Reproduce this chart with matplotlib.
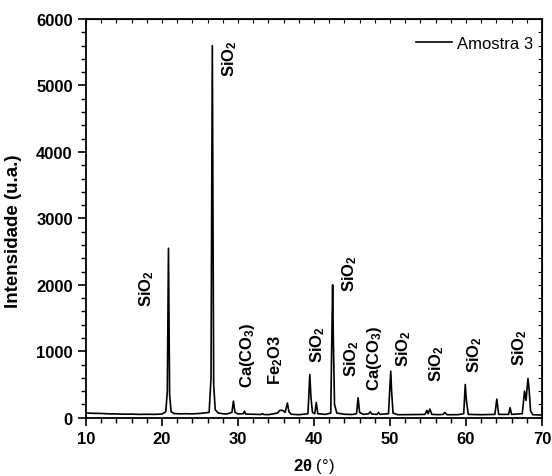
import matplotlib
matplotlib.use("Agg")
import matplotlib.pyplot as plt
from matplotlib.ticker import MultipleLocator

plt.rcParams['font.family'] = ['Liberation Sans', 'DejaVu Sans']
plt.rcParams['mathtext.fontset'] = 'custom'
plt.rcParams['mathtext.rm'] = 'Liberation Sans'
plt.rcParams['mathtext.bf'] = 'Liberation Sans:bold'
plt.rcParams['mathtext.it'] = 'Liberation Sans:italic'

# --- difratograma (2θ, intensidade) ---
two_theta = [
    10.0, 11.0, 12.0, 13.0, 14.0, 15.0, 16.0, 17.0, 18.0, 19.0, 20.0,
    20.5, 20.7, 20.85, 21.0, 21.2, 21.6, 22.5, 23.0, 24.0, 25.0, 26.2,
    26.45, 26.62, 26.8, 27.0, 27.4, 28.0, 28.5, 29.2, 29.4, 29.6, 30.0,
    30.7, 30.85, 31.0, 32.0, 33.0, 33.2, 33.4, 34.0, 35.2, 35.5, 35.9,
    36.2, 36.5, 36.7, 37.0, 38.0, 39.2, 39.45, 39.6, 39.8, 40.1, 40.3,
    40.5, 41.5, 42.2, 42.45, 42.55, 42.7, 43.0, 44.0, 45.0, 45.6, 45.8,
    46.0, 46.5, 47.2, 47.4, 47.6, 48.3, 48.5, 48.7, 49.8, 50.1, 50.2,
    50.4, 51.0, 53.0, 54.6, 54.85, 55.0, 55.25, 55.5, 56.5, 57.0, 57.2,
    57.5, 59.0, 59.7, 59.9, 60.05, 60.3, 62.0, 63.8, 64.05, 64.3, 65.6,
    65.8, 66.0, 67.4, 67.7, 67.9, 68.15, 68.3, 68.5, 68.8, 69.5, 70.0,
]
intensity = [
    72, 66, 64, 58, 57, 53, 54, 50, 52, 50, 56,
    90, 400, 2550, 350, 90, 62, 58, 60, 58, 64, 80,
    600, 5600, 500, 120, 70, 60, 55, 80, 250, 80, 57,
    60, 100, 55, 52, 48, 60, 48, 46, 70, 110, 110,
    80, 220, 90, 52, 45, 60, 650, 300, 80, 60, 230,
    60, 50, 70, 2000, 1150, 200, 70, 52, 48, 60, 300,
    80, 50, 60, 90, 55, 50, 80, 50, 60, 700, 420,
    70, 45, 47, 50, 110, 60, 130, 50, 46, 50, 80,
    45, 46, 60, 500, 260, 50, 45, 50, 280, 50, 50,
    150, 50, 60, 400, 260, 590, 430, 100, 45, 42, 40,
]

# --- identificação das fases ---
labels = [r'$\mathbf{SiO_2}$', r'$\mathbf{SiO_2}$', r'Ca(CO$_\mathbf{3}$)', r'Fe$_\mathbf{2}$O3',
          r'$\mathbf{SiO_2}$', r'$\mathbf{SiO_2}$', r'$\mathbf{SiO_2}$', r'Ca(CO$_\mathbf{3}$)',
          r'$\mathbf{SiO_2}$', r'$\mathbf{SiO_2}$', r'$\mathbf{SiO_2}$', r'$\mathbf{SiO_2}$']
label_x = [18.0, 28.95, 31.2, 34.9, 40.5, 44.7, 45.0, 48.0, 51.8, 56.2, 61.2, 67.1]
label_y = [1684, 5138, 463, 505, 840, 1910, 630, 410, 780, 550, 690, 800]

fig = plt.figure(figsize=(5.52, 4.77), dpi=100)
ax = fig.add_axes([0.1558, 0.1222, 0.8261, 0.8358])

ax.plot(two_theta, intensity, color='black', linewidth=1.2, label='Amostra 3')

for txt, x, y in zip(labels, label_x, label_y):
    ax.text(x, y, txt, rotation=90, ha='center', va='bottom', fontsize=12, fontweight='bold')

ax.set_xlim(10, 70)
ax.set_ylim(0, 6000)
ax.xaxis.set_major_locator(MultipleLocator(10))
ax.xaxis.set_minor_locator(MultipleLocator(2))
ax.yaxis.set_major_locator(MultipleLocator(1000))
ax.yaxis.set_minor_locator(MultipleLocator(200))
ax.tick_params(which='major', direction='out', length=6, width=1.2, labelsize=12)
ax.tick_params(which='minor', direction='out', length=3.5, width=1.0)
for lab in ax.get_xticklabels() + ax.get_yticklabels():
    lab.set_fontweight('bold')
for s in ax.spines.values():
    s.set_linewidth(1.3)

# ticks internos no topo e à direita
top = ax.secondary_xaxis('top')
top.xaxis.set_major_locator(MultipleLocator(10))
top.xaxis.set_minor_locator(MultipleLocator(2))
top.tick_params(which='both', direction='in', length=3, width=0.8, labeltop=False)
right = ax.secondary_yaxis('right')
right.yaxis.set_major_locator(MultipleLocator(1000))
right.yaxis.set_minor_locator(MultipleLocator(200))
right.tick_params(which='both', direction='in', length=3, width=0.8, labelright=False)

ax.set_ylabel('Intensidade (u.a.)', fontsize=13.5, fontweight='bold')
ax.yaxis.set_label_coords(-0.14, 0.47)
ax.set_xlabel(r'$\mathbf{2\theta}$ (°)', fontsize=12, labelpad=7)

ax.legend(loc='upper right', bbox_to_anchor=(1.0066, 0.9874), frameon=False,
          fontsize=12, handlelength=2.2, borderaxespad=0.3, handletextpad=0.3)

fig.savefig('out.png', dpi=100)
